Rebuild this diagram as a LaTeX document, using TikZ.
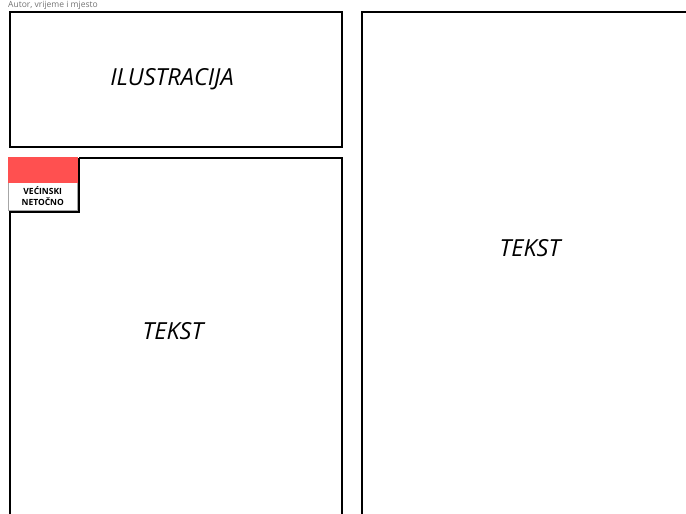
\documentclass[tikz,border=0pt]{standalone}
\usepackage{fontspec}
\setmainfont{Open Sans}
\usetikzlibrary{positioning}
\definecolor{tagred}{RGB}{255,80,80}

\begin{document}
\begin{tikzpicture}[
  x=1pt, y=-1pt,
  panel/.style={draw=black, line width=1.6pt},
  caption/.style={font=\fontsize{23.5}{28}\selectfont\itshape},
  tagbox/.style={draw=black!35, line width=0.5pt, fill=white, minimum width=69pt,
                 minimum height=53pt, inner sep=0pt},
  tagtext/.style={font=\fontsize{8.5}{11}\selectfont\bfseries, align=center, inner sep=0pt},
]
\clip (0,0) rectangle (686,514);
\fill[white] (0,0) rectangle (686,514);
% header line
\node[anchor=base west, inner sep=0pt, text=black!55, font=\fontsize{8.5}{10}\selectfont]
  (meta) at (8,7.5) {Autor, vrijeme i mjesto};
% panels
\draw[panel] (10,12) rectangle (342,147);
\draw[panel] (79,158) -- (342,158) -- (342,540) (10,540) -- (10,212) -- (79,212) -- (79,158);
\draw[panel] (362,12) rectangle (720,540);
\node[caption] (ilu) at (172,79) {ILUSTRACIJA};
\node[caption] (lefttext) at (173,331) {TEKST};
\node[caption] (righttext) at (530,248) {TEKST};
% tag on the corner
\node[tagbox, anchor=north west] (tag) at (8,157) {};
\fill[tagred] (tag.north west) rectangle ([yshift=-26pt]tag.north east);
\node[tagtext] (tagline) at ([yshift=-12pt]tag.center) {VEĆINSKI\\NETOČNO};
\end{tikzpicture}
\end{document}
